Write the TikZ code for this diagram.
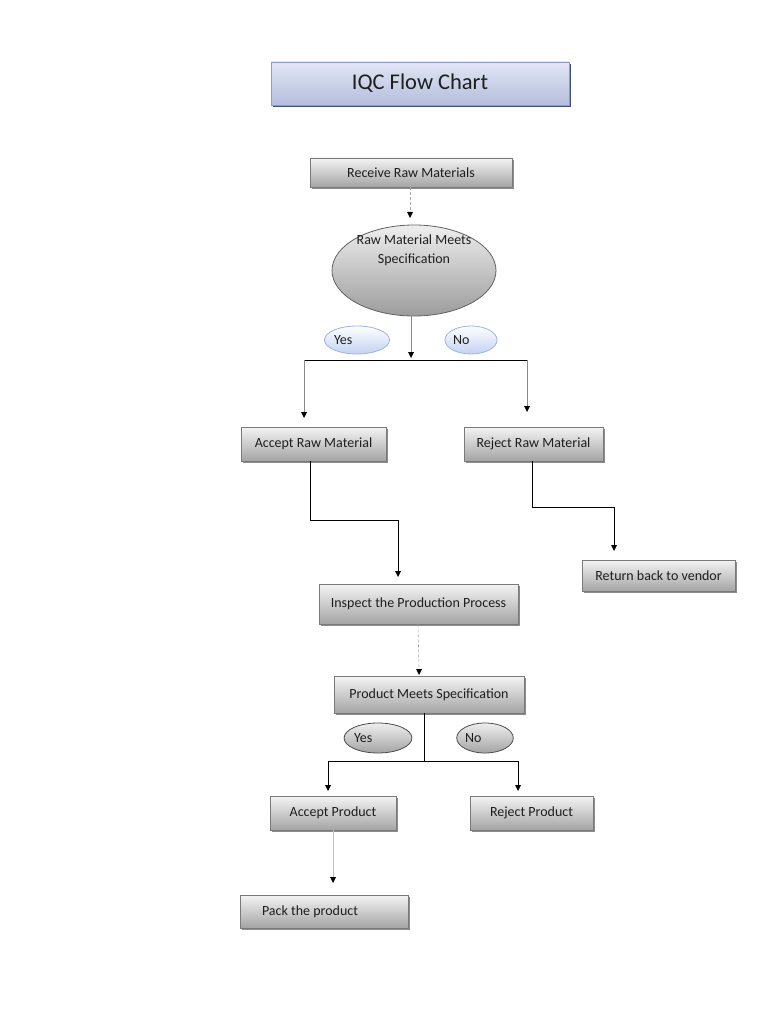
\documentclass[tikz,border=0pt]{standalone}
\usepackage{fontspec}
\setmainfont{Carlito}
\usetikzlibrary{shapes.geometric,shadows,arrows.meta}
\definecolor{boxedge}{HTML}{7A7A7A}
\definecolor{boxtop}{HTML}{F4F4F4}
\definecolor{boxbot}{HTML}{A4A4A4}
\definecolor{textc}{HTML}{1E1E1E}
\definecolor{titletop}{HTML}{E2E6F4}
\definecolor{titlebot}{HTML}{B4BEDD}
\definecolor{titleedge}{HTML}{8E9BC6}
\definecolor{titleshadow}{HTML}{2E3C6E}
\definecolor{bluetop}{HTML}{FFFFFF}
\definecolor{bluebot}{HTML}{C3D2F2}
\definecolor{blueedge}{HTML}{9DB2E4}
\definecolor{linegray}{HTML}{8A8A8A}
\definecolor{dashgray}{HTML}{A8A8A8}
\begin{document}
\begin{tikzpicture}[x=1pt,y=-1pt,
  box/.style={draw=boxedge, top color=boxtop, bottom color=boxbot, line width=0.8pt,
    inner sep=0pt, font=\fontsize{14}{16}\selectfont, text=textc,
    drop shadow={shadow xshift=2pt, shadow yshift=-2pt, fill=black, opacity=0.45}},
  titlebox/.style={draw=titleedge, top color=titletop, bottom color=titlebot, line width=0.8pt,
    inner sep=0pt, font=\fontsize{22.5}{26}\selectfont, text=textc,
    drop shadow={shadow xshift=2pt, shadow yshift=-2pt, fill=titleshadow, opacity=0.9}},
  bigell/.style={ellipse, draw=boxedge!80!black, top color=boxtop!95!gray, bottom color=boxbot!95!black, line width=0.8pt, inner sep=0pt},
  blueopt/.style={ellipse, draw=blueedge, top color=bluetop, bottom color=bluebot, line width=0.8pt,
    inner sep=0pt, font=\fontsize{14}{16}\selectfont, text=textc},
  grayopt/.style={ellipse, draw=black!70, top color=boxtop!95!gray, bottom color=boxbot, line width=0.8pt,
    inner sep=0pt, font=\fontsize{14}{16}\selectfont, text=textc},
  conn/.style={draw=black, line width=0.8pt},
  thin/.style={draw=linegray, line width=0.6pt},
  dsh/.style={draw=dashgray, line width=0.6pt, dash pattern=on 3pt off 2pt}
]
\useasboundingbox[fill=white] (0,0) rectangle (768,1024);

% Title
\node[titlebox, minimum width=298pt, minimum height=43pt] (title) at (420,83.5) {IQC Flow Chart};

% Boxes
\node[box, minimum width=202pt, minimum height=29pt] (recv) at (411,172.5) {Receive Raw Materials};
\node[bigell, minimum width=164pt, minimum height=91pt] (spec1) at (414,270.5) {};
\node[font=\fontsize{14}{19}\selectfont, text=textc, align=center, inner sep=0pt] (spec1txt) at (414,250) {Raw Material Meets\\Specification};

\node[blueopt, minimum width=62pt, minimum height=28pt] (yes1) at (357,340) {\makebox[46pt][l]{Yes}};
\node[blueopt, minimum width=52pt, minimum height=28pt] (no1) at (471,340) {\makebox[36pt][l]{No}};

\node[box, minimum width=145pt, minimum height=34pt] (accR) at (313.5,444) {Accept Raw Material};
\node[box, minimum width=139pt, minimum height=34pt] (rejR) at (533.5,444) {Reject Raw Material};
\node[box, minimum width=153pt, minimum height=31pt] (ret) at (658.5,575.5) {Return back to vendor};
\node[box, minimum width=199pt, minimum height=40pt] (insp) at (418.5,604) {Inspect the Production Process};
\node[box, minimum width=190pt, minimum height=37pt] (pspec) at (429,694.5) {Product Meets Specification};

\node[grayopt, minimum width=64pt, minimum height=30pt] (yes2) at (378,738) {\makebox[48pt][l]{Yes}};
\node[grayopt, minimum width=56pt, minimum height=30pt] (no2) at (485,738) {\makebox[40pt][l]{No}};

\node[box, minimum width=126pt, minimum height=34pt] (accP) at (333,813) {Accept Product};
\node[box, minimum width=123pt, minimum height=34pt] (rejP) at (531.5,813) {Reject Product};
\node[box, minimum width=168pt, minimum height=33pt] (pack) at (324,911.5) {\makebox[124pt][l]{Pack the product}};

% Connectors
\coordinate (d1) at (410,212);
\draw[dsh] (recv.south -| d1) -- (d1);
\fill (407,212) -- (413,212) -- (410,218) -- cycle;

\coordinate (j1) at (411,360);
\coordinate (jl) at (304,360);
\coordinate (jr) at (527,360);
\draw[conn, draw=linegray] (spec1.south -| j1) -- (411,352);
\fill (408,352) -- (414,352) -- (411,358) -- cycle;
\draw[conn] (jl) -- (jr);
\draw[thin] (jl) -- (304,412);
\fill (301,412) -- (307,412) -- (304,418) -- cycle;
\draw[thin] (jr) -- (527,406);
\fill (524,406) -- (530,406) -- (527,412) -- cycle;

\coordinate (a1) at (310,520);
\coordinate (a2) at (398,520);
\draw[conn] (accR.south -| a1) -- (a1) -- (a2) -- (398,571);
\fill (395,571) -- (401,571) -- (398,577) -- cycle;

\coordinate (r1) at (532,507);
\coordinate (r2) at (614,507);
\draw[conn] (rejR.south -| r1) -- (r1) -- (r2) -- (614,545);
\fill (611,545) -- (617,545) -- (614,551) -- cycle;

\coordinate (d2) at (419,669);
\draw[dsh] (insp.south -| 418,0) -- (d2);
\fill (416,669) -- (422,669) -- (419,675) -- cycle;

\coordinate (k1) at (424,761);
\coordinate (kl) at (328,761);
\coordinate (kr) at (518,761);
\draw[conn] (pspec.south -| k1) -- (k1);
\draw[conn] (kl) -- (kr);
\draw[conn] (kl) -- (328,785);
\fill (325,785) -- (331,785) -- (328,791) -- cycle;
\draw[conn] (kr) -- (518,785);
\fill (515,785) -- (521,785) -- (518,791) -- cycle;

\draw[draw=black!25, line width=0.6pt] (accP.south) -- (333,877);
\fill (330,877) -- (336,877) -- (333,883) -- cycle;
\end{tikzpicture}
\end{document}
